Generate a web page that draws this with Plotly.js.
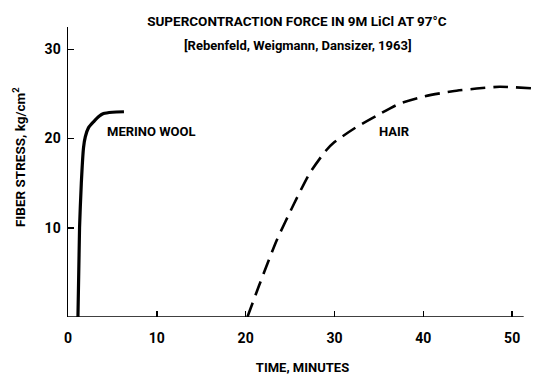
<!DOCTYPE html>
<html>
<head>
<meta charset="utf-8">
<script src="https://cdn.plot.ly/plotly-3.0.1.min.js"></script>
<style>html,body{margin:0;padding:0;background:#fff;}#chart{width:538px;height:375px;}</style>
</head>
<body>
<div id="chart"></div>
<script>
// Merino wool (solid curve)
const merinoTime = [1.12, 1.3, 1.5, 1.75, 1.95, 2.3, 2.9, 3.5, 4.0, 5.0, 6.3];
const merinoStress = [0, 10, 15, 19, 20.2, 21.2, 21.9, 22.5, 22.8, 22.95, 23.0];
// Hair (dashed curve)
const hairTime = [20.2, 21.5, 23.5, 25.5, 27.2, 29.0, 30.0, 32.5, 35, 37.3, 40, 43.3, 46, 48.6, 52.7];
const hairStress = [0, 3.5, 8.6, 12.8, 16.1, 18.6, 19.6, 21.3, 22.7, 23.9, 24.7, 25.3, 25.6, 25.8, 25.6];
// Axis ticks
const xTicks = [0, 10, 20, 30, 40, 50];
const yTicks = [10, 20, 30];
const xAxisEnd = 51.3;

const FONT = 'Roboto, "DejaVu Sans Condensed", sans-serif';
const f = (size) => ({family: FONT, size: size, color: '#000', weight: 'bold'});

const traces = [
  {x: merinoTime, y: merinoStress, mode: 'lines', line: {color: '#000', width: 3.2, shape: 'spline', smoothing: 0.6}, hoverinfo: 'skip', showlegend: false},
  {x: hairTime, y: hairStress, mode: 'lines', line: {color: '#000', width: 2.6, dash: '15px,8px', shape: 'spline', smoothing: 0.6}, hoverinfo: 'skip', showlegend: false}
];

const layout = {
  width: 538, height: 375,
  margin: {l: 68, r: 0.5, t: 27, b: 58, pad: 0},
  paper_bgcolor: '#fff', plot_bgcolor: '#fff',
  font: f(14),
  showlegend: false,
  title: {
    text: 'SUPERCONTRACTION FORCE IN 9M LiCl AT 97°C',
    font: f(13.5),
    xref: 'paper', x: 0.488, xanchor: 'center',
    yref: 'container', y: 1 - 21/375, yanchor: 'middle'
  },
  xaxis: {
    range: [0, 52.8], showgrid: false, zeroline: false, showline: false,
    tickmode: 'array', tickvals: xTicks, ticktext: xTicks.map(String),
    ticks: 'inside', ticklen: 6, tickwidth: 1.5, tickcolor: '#000',
    ticklabelstandoff: 11,
    tickfont: f(14),
    title: {text: 'TIME, MINUTES', font: f(13), standoff: 20}
  },
  yaxis: {
    range: [0, 32.5], showgrid: false, zeroline: false, showline: true, linecolor: '#000', linewidth: 1.5,
    tickmode: 'array', tickvals: yTicks, ticktext: yTicks.map(String),
    ticks: 'inside', ticklen: 6, tickwidth: 1.5, tickcolor: '#000',
    ticklabelstandoff: 3,
    tickfont: f(14)
  },
  shapes: [
    {type: 'line', xref: 'x', yref: 'y', x0: 0, x1: xAxisEnd, y0: 0, y1: 0, line: {color: '#000', width: 1.5}}
  ],
  annotations: [
    {text: '[Rebenfeld, Weigmann, Dansizer, 1963]', xref: 'paper', x: 0.49, xanchor: 'center',
     yref: 'paper', y: (317 - 45) / 290, yanchor: 'middle', showarrow: false,
     font: f(13)},
    {text: 'FIBER STRESS, kg/cm<sup>2</sup>', xref: 'paper', x: (19 - 68) / 469.5, xanchor: 'center',
     yref: 'paper', y: (317 - 157) / 290, yanchor: 'middle', textangle: -90, showarrow: false,
     font: f(13.5)},
    {text: 'MERINO WOOL', xref: 'x', yref: 'y', x: 9.36, y: 20.75, showarrow: false, font: f(13)},
    {text: 'HAIR', xref: 'x', yref: 'y', x: 36.8, y: 20.75, showarrow: false, font: f(13)}
  ]
};

Plotly.newPlot('chart', traces, layout, {staticPlot: true, displayModeBar: false});
</script>
</body>
</html>
